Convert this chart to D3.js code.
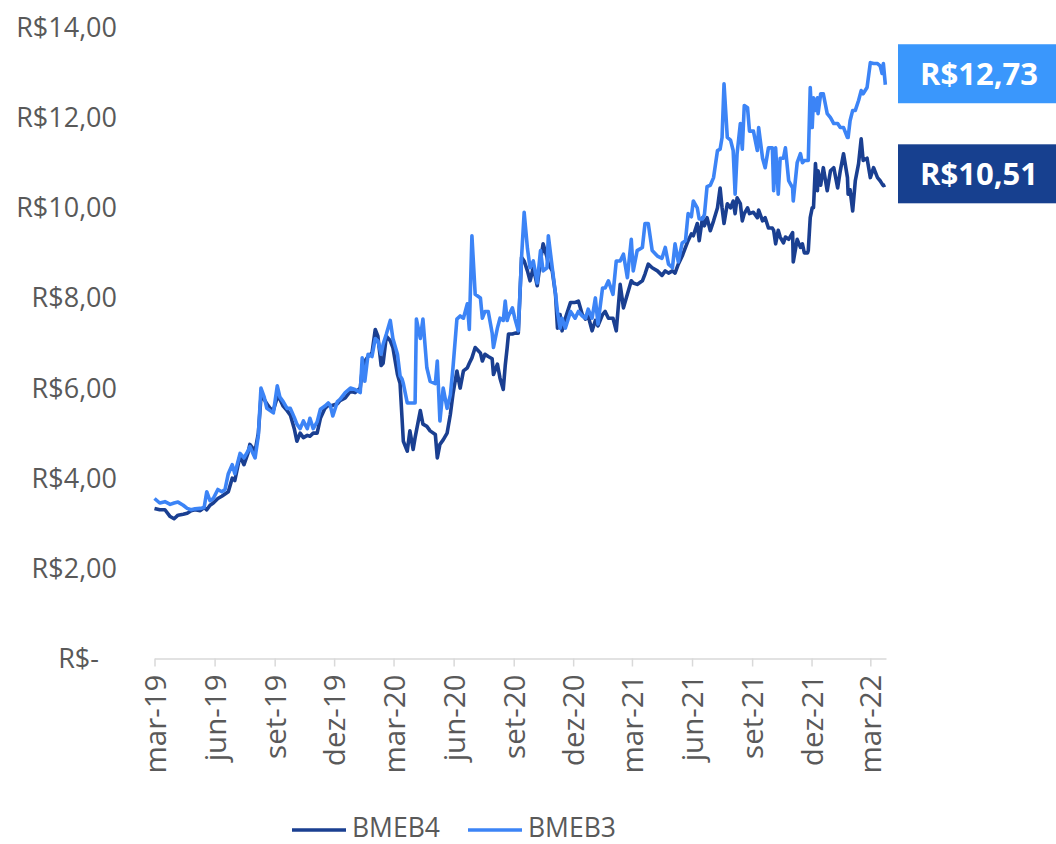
<!DOCTYPE html>
<html><head><meta charset="utf-8">
<script src="https://cdn.jsdelivr.net/npm/d3@7"></script>
<style>body{margin:0;background:#fff}svg{display:block}text{font-family:"Open Sans",sans-serif}</style>
</head><body><svg id="c" width="1056" height="844"></svg>
<script>
const dates=["2019-03-01","2019-03-09","2019-03-17","2019-03-25","2019-03-31","2019-04-06","2019-04-14","2019-04-20","2019-04-26","2019-05-02","2019-05-10","2019-05-16","2019-05-20","2019-05-25","2019-05-30","2019-06-06","2019-06-12","2019-06-17","2019-06-22","2019-06-28","2019-07-02","2019-07-10","2019-07-16","2019-07-22","2019-07-25","2019-08-02","2019-08-07","2019-08-11","2019-08-16","2019-08-20","2019-08-25","2019-08-30","2019-09-05","2019-09-09","2019-09-14","2019-09-20","2019-09-25","2019-10-01","2019-10-05","2019-10-10","2019-10-15","2019-10-21","2019-10-25","2019-10-30","2019-11-05","2019-11-10","2019-11-17","2019-11-22","2019-11-25","2019-11-29","2019-12-06","2019-12-10","2019-12-18","2019-12-26",
"2020-01-02","2020-01-10","2020-01-13","2020-01-17","2020-01-22","2020-01-28","2020-02-02","2020-02-06","2020-02-11","2020-02-14","2020-02-19","2020-02-25","2020-02-29","2020-03-07","2020-03-11","2020-03-14","2020-03-16","2020-03-22","2020-03-26","2020-03-31","2020-04-03","2020-04-05","2020-04-11","2020-04-15","2020-04-21","2020-04-26","2020-05-04","2020-05-07","2020-05-11","2020-05-16","2020-05-22","2020-05-27","2020-05-31","2020-06-06","2020-06-11","2020-06-16","2020-06-22","2020-06-25","2020-06-29","2020-07-04","2020-07-12","2020-07-15","2020-07-19","2020-07-24","2020-07-30","2020-08-01","2020-08-07","2020-08-11","2020-08-16","2020-08-19","2020-08-22","2020-08-24","2020-08-30","2020-09-03","2020-09-08","2020-09-13","2020-09-17","2020-09-22","2020-09-26","2020-10-01","2020-10-07","2020-10-12","2020-10-16","2020-10-22","2020-10-24","2020-10-30","2020-11-04","2020-11-07","2020-11-11","2020-11-14","2020-11-19","2020-11-27","2020-12-04","2020-12-09","2020-12-15","2020-12-20","2020-12-24","2020-12-30",
"2021-01-04","2021-01-08","2021-01-15","2021-01-19","2021-01-24","2021-01-31","2021-02-05","2021-02-11","2021-02-16","2021-02-22","2021-02-28","2021-03-03","2021-03-09","2021-03-17","2021-03-21","2021-03-26","2021-04-01","2021-04-09","2021-04-16","2021-04-21","2021-04-26","2021-05-02","2021-05-06","2021-05-11","2021-05-17","2021-05-22","2021-05-26","2021-05-31","2021-06-03","2021-06-09","2021-06-12","2021-06-17","2021-06-20","2021-06-24","2021-06-29","2021-07-04","2021-07-10","2021-07-14","2021-07-17","2021-07-20","2021-07-25","2021-07-30","2021-08-03","2021-08-06","2021-08-09","2021-08-14","2021-08-17","2021-08-20","2021-08-25","2021-08-28","2021-09-03","2021-09-09","2021-09-11","2021-09-17","2021-09-21","2021-09-26","2021-10-02","2021-10-04","2021-10-07","2021-10-11","2021-10-14","2021-10-19","2021-10-22","2021-10-27","2021-11-02","2021-11-03","2021-11-09","2021-11-14","2021-11-17","2021-11-20","2021-11-25","2021-11-26","2021-11-29","2021-12-02","2021-12-04","2021-12-07","2021-12-10","2021-12-11","2021-12-15","2021-12-19","2021-12-25","2021-12-30",
"2022-01-04","2022-01-10","2022-01-14","2022-01-19","2022-01-25","2022-01-26","2022-01-29","2022-02-02","2022-02-06","2022-02-11","2022-02-15","2022-02-18","2022-02-24","2022-03-01","2022-03-06","2022-03-12","2022-03-16","2022-03-19","2022-03-21","2022-03-24"];

const bmeb4=[3.33,3.30,3.30,3.15,3.10,3.18,3.20,3.22,3.28,3.30,3.28,3.35,3.30,3.40,3.45,3.55,3.60,3.65,3.70,4.00,3.95,4.50,4.30,4.55,4.75,4.60,5.00,5.80,5.75,5.65,5.55,5.50,5.80,5.75,5.60,5.50,5.40,5.10,4.82,5.00,4.90,4.95,4.93,5.00,5.00,5.33,5.55,5.62,5.60,5.62,5.65,5.72,5.78,5.93,
5.90,6.00,6.40,6.60,6.70,6.78,7.30,7.15,6.50,6.55,7.15,7.05,6.90,6.30,6.10,5.33,4.82,4.60,5.05,4.64,4.90,5.05,5.50,5.20,5.15,5.05,4.97,4.45,4.75,4.85,5.00,5.42,5.87,6.38,6.00,6.38,6.45,6.55,6.67,6.90,6.78,6.60,6.75,6.70,6.65,6.30,6.53,6.22,5.97,6.50,6.90,7.20,7.20,7.22,7.22,8.90,8.82,8.60,8.38,8.67,8.27,8.82,9.20,8.90,8.75,8.60,8.08,7.33,7.63,7.27,7.55,7.90,7.90,7.93,7.63,7.53,7.60,7.27,
7.50,7.38,7.63,7.70,7.55,7.55,7.27,8.30,7.78,8.08,8.38,8.33,8.30,8.38,8.53,8.75,8.67,8.60,8.50,8.60,8.55,8.60,8.55,8.75,8.93,9.12,9.27,9.42,9.38,9.65,9.27,9.78,9.60,9.78,9.49,9.71,10.00,10.44,10.00,9.65,10.09,10.00,10.15,9.87,10.22,10.09,9.71,9.87,10.00,9.87,9.90,9.78,9.95,9.71,9.78,9.55,9.55,9.50,9.20,9.50,9.35,9.22,9.35,9.30,9.45,8.80,9.30,9.12,9.20,9.00,9.00,9.05,9.78,10.00,10.00,10.98,10.38,10.82,10.50,10.89,10.38,10.82,
10.89,10.44,10.82,11.20,10.67,10.30,10.40,9.93,10.60,10.98,11.53,11.05,11.10,10.67,10.89,10.67,10.60,10.53,10.49,10.51];

const bmeb3=[3.55,3.45,3.48,3.42,3.45,3.47,3.40,3.33,3.30,3.32,3.33,3.35,3.70,3.50,3.55,3.75,3.70,3.75,4.10,4.30,4.10,4.55,4.45,4.60,4.70,4.45,4.95,6.00,5.80,5.55,5.50,5.45,6.05,5.80,5.70,5.55,5.55,5.35,5.20,5.10,5.27,5.10,5.33,5.10,5.25,5.53,5.60,5.67,5.62,5.38,5.70,5.75,5.90,6.00,
5.97,5.90,6.67,6.15,6.75,6.70,7.10,7.05,6.75,6.97,7.20,7.50,7.10,6.75,6.27,6.20,6.10,5.67,5.67,5.67,5.67,7.53,7.10,7.53,6.45,6.15,6.10,6.60,5.27,6.00,5.55,5.85,6.45,7.53,7.60,7.55,7.87,7.30,9.38,8.08,8.00,7.55,7.70,7.70,7.22,6.90,7.33,7.55,7.50,7.93,7.50,7.60,7.78,7.53,7.27,8.90,9.90,9.10,8.67,8.82,8.33,9.05,8.60,8.67,9.38,8.67,8.08,7.70,7.33,7.55,7.33,7.70,7.55,7.70,7.60,7.55,7.75,7.55,
8.00,7.42,8.22,8.22,8.38,8.08,8.82,8.82,8.97,8.45,9.30,8.60,9.05,9.12,9.65,9.65,9.05,8.93,8.88,9.12,8.75,8.67,9.20,8.80,9.22,9.27,9.87,9.80,10.15,10.00,9.75,9.75,9.85,10.47,10.50,10.67,11.27,11.30,11.56,12.75,11.56,11.50,11.27,10.30,11.20,11.87,11.30,12.27,12.22,11.70,11.70,11.27,11.78,11.10,10.89,11.33,11.33,10.38,11.33,10.30,11.10,11.10,11.33,10.60,10.44,10.15,11.00,11.20,11.00,11.05,11.05,11.05,12.67,11.78,12.44,12.16,12.44,12.09,12.53,12.53,12.09,12.00,
11.87,11.87,11.78,11.78,11.56,11.56,11.93,12.16,12.16,12.38,12.60,12.53,12.67,13.22,13.20,13.20,13.15,12.98,13.20,12.73];

const yTicks=[0,2,4,6,8,10,12,14];
const yTickLabels=["R$-","R$2,00","R$4,00","R$6,00","R$8,00","R$10,00","R$12,00","R$14,00"];
const xTickDates=["2019-03-01","2019-06-01","2019-09-01","2019-12-01","2020-03-01","2020-06-01","2020-09-01","2020-12-01","2021-03-01","2021-06-01","2021-09-01","2021-12-01","2022-03-01"];
const xTickLabels=["mar-19","jun-19","set-19","dez-19","mar-20","jun-20","set-20","dez-20","mar-21","jun-21","set-21","dez-21","mar-22"];
const seriesNames=["BMEB4","BMEB3"];
const seriesColors=["#1a3f91","#3c84f6"];
const boxColors=["#17408f","#3a97fc"];
const lastLabels=["R$10,51","R$12,73"];

const parse=d3.timeParse("%Y-%m-%d");
const svg=d3.select("#c");
const x=d3.scaleTime().domain([parse("2019-03-01"),parse("2022-03-25")]).range([154.5,886]);
const y=d3.scaleLinear().domain([0,14]).range([658.5,27.5]);
const textColor="#595959";

// y labels
svg.append("g").selectAll("text").data(yTicks).join("text")
  .attr("x",(d)=>d===0?99:117).attr("y",d=>y(d)).attr("dy","0.35em")
  .attr("text-anchor","end").attr("font-size",27).attr("fill",textColor)
  .text((d,i)=>yTickLabels[i]);

// x axis
const xa=svg.append("g").attr("transform",`translate(0,${y(0)})`)
  .call(d3.axisBottom(x).tickValues(xTickDates.map(parse)).tickFormat((d,i)=>xTickLabels[i]).tickSize(8).tickSizeOuter(0));
xa.select(".domain").attr("stroke","#d9d9d9").attr("stroke-width",1.5);
xa.selectAll(".tick line").attr("stroke","#d9d9d9").attr("stroke-width",1.5);
xa.selectAll(".tick text").attr("font-size",29.5).attr("font-family","'Open Sans',sans-serif").attr("fill",textColor)
  .attr("transform","rotate(-90)").attr("text-anchor","end").attr("x",-16).attr("y",0).attr("dy","0.36em");

// lines
const series=[bmeb4,bmeb3];
const n=Math.min(dates.length,bmeb4.length,bmeb3.length);
const line=d3.line().x(d=>x(d.date)).y(d=>y(d.v));
series.forEach((vals,k)=>{
  const data=d3.range(n).map(i=>({date:parse(dates[i]),v:vals[i]}));
  svg.append("path").datum(data).attr("d",line).attr("fill","none")
    .attr("stroke",seriesColors[k]).attr("stroke-width",3.6).attr("stroke-linejoin","round");
});

// end labels
series.forEach((vals,k)=>{
  const cy=y(vals[n-1])-11;
  svg.append("rect").attr("x",898).attr("y",cy-29.5).attr("width",170).attr("height",59).attr("fill",boxColors[k]);
  svg.append("text").attr("x",979).attr("y",cy).attr("dy","0.36em").attr("text-anchor","middle")
    .attr("font-size",31).attr("font-weight","bold").attr("fill","#fff").text(lastLabels[k]);
});

// legend
const legX=[292,468];
seriesNames.forEach((s,k)=>{
  svg.append("line").attr("x1",legX[k]).attr("x2",legX[k]+54).attr("y1",830).attr("y2",830)
    .attr("stroke",seriesColors[k]).attr("stroke-width",3.6);
  svg.append("text").attr("x",legX[k]+60).attr("y",836.5).attr("font-size",26.5)
    .attr("fill",textColor).text(s);
});
</script></body></html>
